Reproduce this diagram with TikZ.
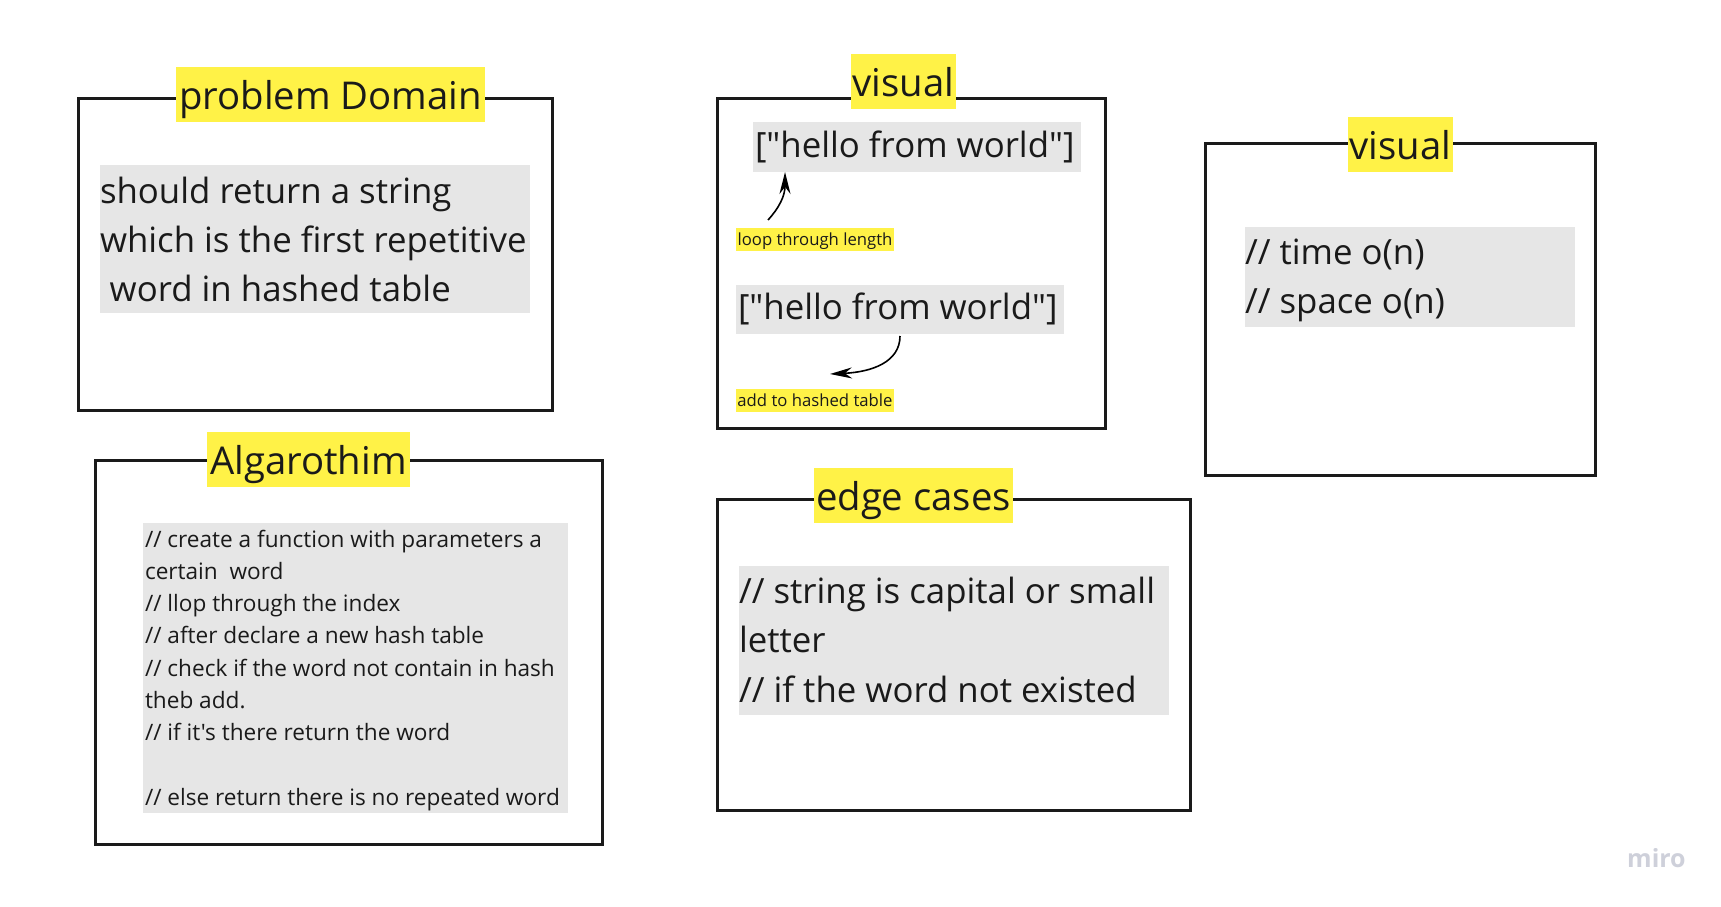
\documentclass[tikz,border=0pt]{standalone}
\usepackage{fontspec}
\setmainfont{Open Sans}[Ligatures=TeXOff]
\usetikzlibrary{arrows.meta}
\definecolor{hl}{HTML}{FFF247}
\definecolor{graybg}{HTML}{E6E6E6}
\definecolor{ink}{HTML}{1A1A1A}
\definecolor{mirocol}{HTML}{CED0DA}
\tikzset{
  framebox/.style={draw=ink, line width=3pt, anchor=north west, inner sep=0pt, outer sep=0pt},
  titlebox/.style={fill=hl, text=ink, anchor=north west, inner sep=0pt, outer sep=0pt,
    minimum height=55pt, text height=42pt, text depth=13pt, font=\fontsize{38.3}{46}\selectfont},
  graybox/.style={fill=graybg, anchor=north west, inner sep=0pt, outer sep=0pt},
  bodytext/.style={text=ink, anchor=base west, inner sep=0pt, outer sep=0pt},
  tagbox/.style={fill=hl, text=ink, anchor=north west, inner sep=0pt, outer sep=0pt,
    minimum width=158pt, minimum height=23pt, text height=17pt, text depth=6pt,
    font=\fontsize{16.7}{20}\selectfont},
  curvearrow/.style={draw=black, line width=1.6pt, -{Stealth[length=22pt,width=11pt]}},
}
\newcommand{\bigtxt}{\fontsize{34.8}{49}\selectfont}
\newcommand{\smalltxt}{\fontsize{22.6}{32.3}\selectfont}
\begin{document}
\begin{tikzpicture}[x=1pt,y=-1pt]
\useasboundingbox[fill=white] (0,0) rectangle (1721,907);

% ---- problem Domain ----
\node[framebox, minimum width=474pt, minimum height=312pt] (pdframe) at (78,98) {};
\node[titlebox, minimum width=309pt] (pdtitle) at (176,67) {problem Domain};
\node[graybox, minimum width=430pt, minimum height=148pt] (pdgray) at (100,165) {};
\node[bodytext] (pdtext) at (100,203) {\parbox[t]{440pt}{\bigtxt should return a string\\
which is the first repetitive\\
\hspace*{0.28em}word in hashed table}};

% ---- visual (middle) ----
\node[framebox, minimum width=388pt, minimum height=330pt] (v1frame) at (717.5,98.5) {};
\node[titlebox, minimum width=105pt] (v1title) at (851,54) {visual};
\node[graybox, minimum width=328pt, minimum height=50pt] (v1graya) at (753,122) {};
\node[bodytext] (v1texta) at (755,157) {\bigtxt ["hello from world"]};
\node[graybox, minimum width=328pt, minimum height=49pt] (v1grayb) at (736,285) {};
\node[bodytext] (v1textb) at (738,319) {\bigtxt ["hello from world"]};
\node[tagbox] (looptag) at (736,228) {loop through length};
\node[tagbox] (addtag) at (736,389) {add to hashed table};
\coordinate (a1s) at (768,220);
\coordinate (a1e) at (785,172);
\coordinate (a2s) at (900,336);
\coordinate (a2e) at (830,374);
\draw[curvearrow] (a1s) .. controls (779,208) and (785,196) .. (a1e);
\draw[curvearrow] (a2s) .. controls (900,362) and (872,372) .. (a2e);

% ---- Algarothim ----
\node[framebox, minimum width=507pt, minimum height=384.5pt] (algframe) at (95,460) {};
\node[titlebox, minimum width=203pt] (algtitle) at (207,432) {Algarothim};
\node[graybox, minimum width=425pt, minimum height=290pt] (alggray) at (143,523) {};
\node[bodytext] (algtext) at (145,547) {\parbox[t]{420pt}{\smalltxt // create a function with parameters a\\
certain\ \ word\\
// llop through the index\\
// after declare a new hash table\\
// check if the word not contain in hash\\
theb add.\\
// if it's there return the word\\
\mbox{}\\
// else return there is no repeated word}};

% ---- visual (right) ----
\node[framebox, minimum width=390pt, minimum height=332pt] (v2frame) at (1205.5,143.5) {};
\node[titlebox, minimum width=105pt] (v2title) at (1348,117) {visual};
\node[graybox, minimum width=330pt, minimum height=100pt] (v2gray) at (1245,227) {};
\node[bodytext] (v2text) at (1245,264) {\parbox[t]{320pt}{\bigtxt // time o(n)\\
// space o(n)}};

% ---- edge cases ----
\node[framebox, minimum width=473pt, minimum height=311pt] (edframe) at (717.5,499.5) {};
\node[titlebox, minimum width=199pt] (edtitle) at (814,468) {edge cases};
\node[graybox, minimum width=430pt, minimum height=149pt] (edgray) at (739,566) {};
\node[bodytext] (edtext) at (739,603) {\parbox[t]{440pt}{\fontsize{34.8}{49.5}\selectfont // string is capital or small\\
letter\\
// if the word not existed}};

% ---- logo ----
\node[text=mirocol, anchor=base west, inner sep=0pt, font=\fontsize{25}{30}\selectfont\bfseries] (logo) at (1627,867) {miro};
\end{tikzpicture}
\end{document}
